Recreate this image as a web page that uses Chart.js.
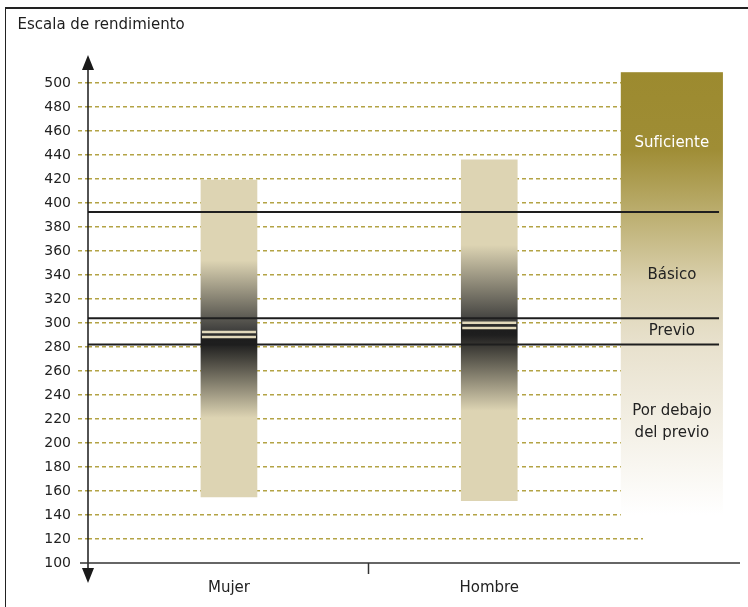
<!DOCTYPE html>
<html lang="es">
<head>
  <meta charset="UTF-8" />
  <title>Escala de rendimiento</title>
  <script src="https://cdn.jsdelivr.net/npm/chart.js"></script>
  <style>
    * {
      box-sizing: border-box;
      font-family: 'DejaVu Sans', sans-serif;
    }

    body {
      margin: 0;
      background: #fff;
    }

    #wrap {
      position: relative;
      width: 748px;
      height: 607px;
      overflow: hidden;
    }

    .marco {
      position: absolute;
      left: 5px;
      top: 7px;
      width: 760px;
      height: 620px;
      border-left: 1.5px solid #222;
      border-top: 2px solid #222;
      pointer-events: none;
    }

    .titulo {
      position: absolute;
      left: 17.5px;
      top: 16.5px;
      font-size: 15px;
      line-height: 15px;
      color: #1e1e1e;
    }
  </style>
</head>
<body>
  <div id="wrap">
    <canvas id="grafico"></canvas>
    <div class="marco"></div>
    <div class="titulo">Escala de rendimiento</div>
  </div>

  <script>
    // puntajes por sexo: percentiles 5, 25, 75, 95 e intervalo de confianza del promedio
    const categories = ['Mujer', 'Hombre'];
    const p5 = [155, 152];
    const p25 = [221, 227];
    const p75 = [352, 365];
    const p95 = [419, 436];
    const ciLow = [288.3, 295.8];
    const ciHigh = [292.5, 300.3];

    // niveles de logro (de abajo hacia arriba)
    const levelNames = [['Por debajo', 'del previo'], ['Previo'], ['Básico'], ['Suficiente']];
    const levelCuts = [282, 304, 392.5];
    const levelLabelAt = [217, 293, 340, 450];
    const bandRange = [130, 509];

    // eje vertical
    const yMin = 100, yMax = 500, yStep = 20;

    // ubicación horizontal (unidades del eje x)
    const catPos = [2.54, 7.23];
    const dividerPos = 5.06;
    const bandX = [9.6, 11.44];
    const lineEnd = 11.37;

    const TAN = '#ddd4b3';
    const bandStops = [[509, '#9c8a2f'], [445, '#9f8d35'], [330, '#dcd3b2'], [282, '#e8e1cd'], [140, '#ffffff']];

    function barFill(c) {
      const chart = c.chart;
      const y = chart.scales.y;
      if (!chart.chartArea || c.dataIndex === undefined || !y) return TAN;
      const i = c.dataIndex;
      const top = y.getPixelForValue(p95[i]);
      const bottom = y.getPixelForValue(p5[i]);
      const at = v => (y.getPixelForValue(v) - top) / (bottom - top);
      const g = chart.ctx.createLinearGradient(0, top, 0, bottom);
      g.addColorStop(0, TAN);
      g.addColorStop(at(p75[i]), TAN);
      g.addColorStop(at(ciHigh[i]), '#3c3c3b');
      g.addColorStop(at(ciLow[i]), '#1c1c1c');
      g.addColorStop(at(ciLow[i] - 6), '#1f1f1f');
      g.addColorStop(at(p25[i]), TAN);
      g.addColorStop(1, TAN);
      return g;
    }

    const decor = {
      id: 'decor',
      beforeDatasetsDraw(chart) {
        const { ctx, scales: { x, y } } = chart;
        const left = x.getPixelForValue(bandX[0]);
        const right = x.getPixelForValue(bandX[1]);
        const top = y.getPixelForValue(bandRange[1]);
        const bottom = y.getPixelForValue(bandRange[0]);
        const g = ctx.createLinearGradient(0, top, 0, bottom);
        bandStops.forEach(([v, col]) => {
          g.addColorStop(Math.min(1, Math.max(0, (y.getPixelForValue(v) - top) / (bottom - top))), col);
        });
        ctx.save();
        ctx.fillStyle = g;
        ctx.fillRect(left, top, right - left, bottom - top);
        ctx.restore();
      },
      afterDatasetsDraw(chart) {
        const { ctx, chartArea, scales: { x, y } } = chart;
        ctx.save();

        // intervalo de confianza del promedio
        chart.getDatasetMeta(0).data.forEach((bar, i) => {
          [ciLow[i], ciHigh[i]].forEach(v => {
            const py = y.getPixelForValue(v);
            ctx.strokeStyle = '#e2d9bb';
            ctx.lineWidth = 2.5;
            ctx.beginPath();
            ctx.moveTo(bar.x - bar.width / 2 + 1, py);
            ctx.lineTo(bar.x + bar.width / 2 - 1, py);
            ctx.stroke();
          });
        });

        // cortes entre niveles
        ctx.strokeStyle = '#1e1e1e';
        ctx.lineWidth = 2;
        levelCuts.forEach(v => {
          const py = y.getPixelForValue(v);
          ctx.beginPath();
          ctx.moveTo(chartArea.left, py);
          ctx.lineTo(x.getPixelForValue(lineEnd), py);
          ctx.stroke();
        });

        // nombres de los niveles
        const cx = (x.getPixelForValue(bandX[0]) + x.getPixelForValue(bandX[1])) / 2;
        ctx.font = '15px "DejaVu Sans"';
        ctx.textAlign = 'center';
        ctx.textBaseline = 'middle';
        levelNames.forEach((lines, i) => {
          ctx.fillStyle = i === 3 ? '#ffffff' : '#222';
          const py = y.getPixelForValue(levelLabelAt[i]);
          lines.forEach((t, k) => {
            ctx.fillText(t, cx, py + (k - (lines.length - 1) / 2) * 22);
          });
        });

        // ejes con flechas
        const ax = chartArea.left;
        const yTop = y.getPixelForValue(yMax) - 28;
        const yBot = y.getPixelForValue(yMin) + 20;
        ctx.strokeStyle = '#1a1a1a';
        ctx.fillStyle = '#1a1a1a';
        ctx.lineWidth = 1.5;
        ctx.beginPath();
        ctx.moveTo(ax, yTop + 6);
        ctx.lineTo(ax, yBot - 6);
        ctx.stroke();
        ctx.beginPath();
        ctx.moveTo(ax, yTop);
        ctx.lineTo(ax - 6, yTop + 15);
        ctx.lineTo(ax + 6, yTop + 15);
        ctx.closePath();
        ctx.fill();
        ctx.beginPath();
        ctx.moveTo(ax, yBot);
        ctx.lineTo(ax - 6, yBot - 15);
        ctx.lineTo(ax + 6, yBot - 15);
        ctx.closePath();
        ctx.fill();

        const base = y.getPixelForValue(yMin);
        ctx.strokeStyle = '#333';
        ctx.beginPath();
        ctx.moveTo(ax - 8, base);
        ctx.lineTo(740, base);
        ctx.stroke();

        ctx.restore();
      }
    };

    new Chart(document.getElementById('grafico'), {
      type: 'bar',
      data: {
        datasets: [{
          label: 'Distribución de puntajes',
          data: categories.map((c, i) => ({ x: catPos[i], y: [p5[i], p95[i]] })),
          backgroundColor: barFill,
          borderWidth: 0,
          barThickness: 56
        }]
      },
      options: {
        responsive: true,
        maintainAspectRatio: false,
        animation: false,
        layout: { padding: { top: 83, right: 105, bottom: 0, left: 0 } },
        plugins: {
          legend: { display: false },
          tooltip: { enabled: false }
        },
        scales: {
          x: {
            type: 'linear',
            min: 0,
            max: 10,
            offset: false,
            afterBuildTicks: s => { s.ticks = [catPos[0], dividerPos, catPos[1]].map(v => ({ value: v })); },
            afterFit: s => { s.height = 44; },
            ticks: {
              autoSkip: false,
              maxRotation: 0,
              padding: 5,
              color: '#222',
              font: { size: 15, family: 'DejaVu Sans' },
              callback: v => {
                const i = catPos.indexOf(v);
                return i >= 0 ? categories[i] : '';
              }
            },
            grid: {
              offset: false,
              drawOnChartArea: false,
              tickLength: 11,
              tickWidth: 1.5,
              tickColor: c => (c.tick && c.tick.value === dividerPos ? '#333' : 'rgba(0,0,0,0)')
            },
            border: { display: false }
          },
          y: {
            min: yMin,
            max: yMax,
            afterFit: s => { s.width = 88; },
            ticks: {
              stepSize: yStep,
              padding: 7,
              color: '#222',
              font: { size: 14, family: 'DejaVu Sans' }
            },
            grid: {
              color: c => (c.tick && c.tick.value === yMin ? 'rgba(0,0,0,0)' : '#b3a345'),
              lineWidth: 1.5,
              tickLength: 10,
              tickBorderDash: [4, 3]
            },
            border: { display: false, dash: [4, 3] }
          }
        }
      },
      plugins: [decor]
    });
  </script>
</body>
</html>
